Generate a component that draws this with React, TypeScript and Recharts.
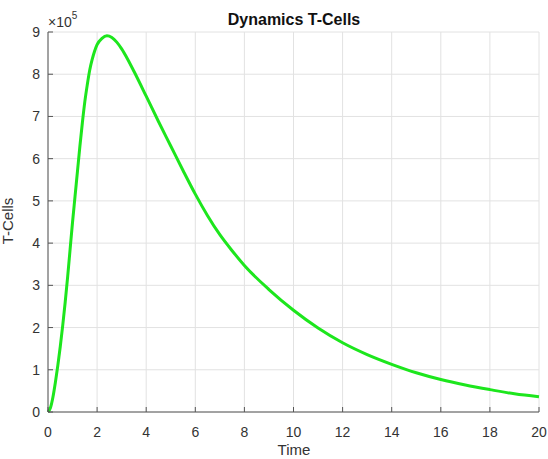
import { LineChart, Line, XAxis, YAxis, CartesianGrid } from 'recharts'

// time points and T-cell counts (in cells)
const time = [
  0, 0.1, 0.2, 0.3, 0.4, 0.5, 0.6, 0.7, 0.8, 0.9, 1.0, 1.1, 1.2, 1.3, 1.4, 1.5,
  1.6, 1.7, 1.8, 1.9, 2.0, 2.2, 2.4, 2.6, 2.8, 3.0, 3.25, 3.5, 4.0, 4.5, 5.0,
  5.5, 6.0, 6.5, 7.0, 7.5, 8.0, 9.0, 10.0, 11.0, 12.0, 13.0, 14.0, 15.0, 16.0,
  17.0, 18.0, 19.0, 20.0,
]
const tCells = [
  0, 10000, 35000, 70000, 110000, 155000, 205000, 260000, 320000, 385000,
  450000, 510000, 570000, 630000, 685000, 735000, 775000, 810000, 835000,
  855000, 870000, 885000, 891000, 887000, 876000, 860000, 835000, 807000,
  748000, 688000, 630000, 572000, 516000, 465000, 420000, 382000, 347000,
  290000, 241000, 199000, 164000, 136000, 113000, 93000, 77000, 64000, 53000,
  43000, 36000,
]
const xTicks = [0, 2, 4, 6, 8, 10, 12, 14, 16, 18, 20]
const yTicks = [0, 100000, 200000, 300000, 400000, 500000, 600000, 700000, 800000, 900000]

const data = time.map((t, i) => ({ time: t, cells: tCells[i] }))

const FONT = '"Liberation Sans", Arial, Helvetica, sans-serif'
const AXIS = '#555555'
const TEXT = '#333333'

const BottomTick = (props: any) => {
  const { x, y, payload } = props
  return (
    <g>
      <line x1={x} x2={x} y1={y} y2={y - 5} stroke={AXIS} />
      <text x={x} y={y + 25} textAnchor="middle" fontSize={14} fill={TEXT} fontFamily={FONT}>
        {payload.value}
      </text>
    </g>
  )
}

const TopTick = (props: any) => {
  const { x, y } = props
  return <line x1={x} x2={x} y1={y} y2={y + 5} stroke={AXIS} />
}

const LeftTick = (props: any) => {
  const { x, y, payload } = props
  return (
    <g>
      <line x1={x} x2={x + 5} y1={y} y2={y} stroke={AXIS} />
      <text x={x - 8} y={y} dy="0.36em" textAnchor="end" fontSize={14} fill={TEXT} fontFamily={FONT}>
        {payload.value / 100000}
      </text>
    </g>
  )
}

const RightTick = (props: any) => {
  const { x, y } = props
  return <line x1={x} x2={x - 5} y1={y} y2={y} stroke={AXIS} />
}

export default function App() {
  return (
    <div style={{ position: 'absolute', left: 0, top: 0, width: 548, height: 459, background: '#fff' }}>
      <LineChart width={548} height={459} data={data} margin={{ top: 32, right: 9, bottom: 0, left: 0 }}>
        <CartesianGrid stroke="#e2e2e2" />
        <XAxis
          dataKey="time"
          type="number"
          domain={[0, 20]}
          ticks={xTicks}
          height={47}
          tickSize={0}
          tickMargin={0}
          tickLine={false}
          stroke={AXIS}
          tick={<BottomTick />}
        />
        <XAxis
          xAxisId="top"
          orientation="top"
          dataKey="time"
          type="number"
          domain={[0, 20]}
          ticks={xTicks}
          height={0}
          tickSize={0}
          tickMargin={0}
          tickLine={false}
          stroke={AXIS}
          tick={<TopTick />}
        />
        <YAxis
          type="number"
          domain={[0, 900000]}
          ticks={yTicks}
          width={48}
          tickSize={0}
          tickMargin={0}
          tickLine={false}
          stroke={AXIS}
          tick={<LeftTick />}
        />
        <YAxis
          yAxisId="right"
          orientation="right"
          type="number"
          domain={[0, 900000]}
          ticks={yTicks}
          width={0}
          tickSize={0}
          tickMargin={0}
          tickLine={false}
          stroke={AXIS}
          tick={<RightTick />}
        />
        <Line
          type="monotone"
          dataKey="cells"
          stroke="#1de61d"
          strokeWidth={3}
          dot={false}
          isAnimationActive={false}
        />
      </LineChart>
      <svg
        width={548}
        height={459}
        style={{ position: 'absolute', left: 0, top: 0, pointerEvents: 'none' }}
        fontFamily={FONT}
      >
        <text x={294} y={25} textAnchor="middle" fontSize={16} fontWeight="bold" fill="#111">
          Dynamics T-Cells
        </text>
        <text x={294} y={455} textAnchor="middle" fontSize={15} fill={TEXT}>
          Time
        </text>
        <text
          x={13}
          y={221}
          textAnchor="middle"
          fontSize={15}
          fill={TEXT}
          transform="rotate(-90 13 221)"
        >
          T-Cells
        </text>
        <text x={48} y={27} fontSize={14} fill={TEXT}>
          ×10
          <tspan dy={-8} fontSize={10}>
            5
          </tspan>
        </text>
      </svg>
    </div>
  )
}
